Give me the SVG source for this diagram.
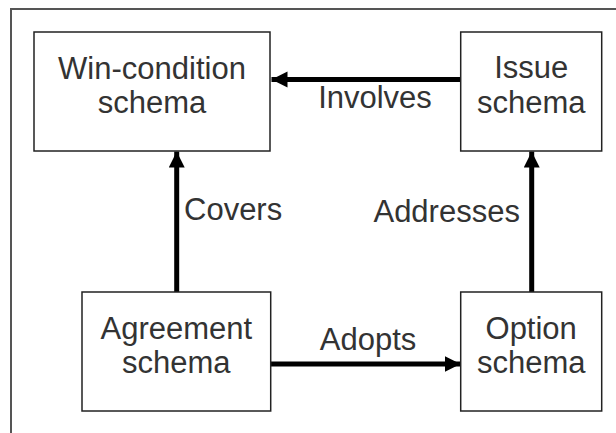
<svg xmlns="http://www.w3.org/2000/svg" width="616" height="433" viewBox="0 0 616 433">
  <style>
    .box { fill: #ffffff; stroke: #222222; stroke-width: 1.5; }
    .lbl { font-family: "Liberation Sans", Arial, sans-serif; font-size: 31px; fill: #333333; text-anchor: middle; }
    .edge { stroke: #000000; stroke-width: 5; fill: none; marker-end: url(#head); }
    .frame { stroke: #555555; stroke-width: 2; fill: none; }
  </style>
  <defs>
    <marker id="head" markerUnits="userSpaceOnUse" markerWidth="18" markerHeight="18" refX="16" refY="8" orient="auto">
      <path d="M0,0 L16,8 L0,16 Z" fill="#000000"/>
    </marker>
  </defs>
  <rect width="616" height="433" fill="#ffffff"/>

  <!-- open frame: top and left edges only -->
  <path class="frame" d="M11,433 L11,9 L616,9"/>

  <g id="connectors">
    <line class="edge" x1="460.7" y1="79.5" x2="271.5" y2="79.5"/>
    <line class="edge" x1="176.7" y1="292" x2="176.7" y2="151.5"/>
    <line class="edge" x1="531.7" y1="292" x2="531.7" y2="151.5"/>
    <line class="edge" x1="270.7" y1="364" x2="460.5" y2="364"/>
    <text class="lbl" x="375" y="108">Involves</text>
    <text class="lbl" x="184" y="220" style="text-anchor:start">Covers</text>
    <text class="lbl" x="446.7" y="221.5">Addresses</text>
    <text class="lbl" x="368" y="350">Adopts</text>
  </g>

  <g id="win-condition">
    <rect class="box" x="34" y="32" width="236" height="119"/>
    <text class="lbl" x="152" y="78.5">Win-condition</text>
    <text class="lbl" x="152" y="113">schema</text>
  </g>

  <g id="issue">
    <rect class="box" x="460.7" y="32" width="141" height="119"/>
    <text class="lbl" x="531.2" y="77.5">Issue</text>
    <text class="lbl" x="531.2" y="113">schema</text>
  </g>

  <g id="agreement">
    <rect class="box" x="82" y="292" width="188.7" height="119"/>
    <text class="lbl" x="176.3" y="339">Agreement</text>
    <text class="lbl" x="176.3" y="373.3">schema</text>
  </g>

  <g id="option">
    <rect class="box" x="460.7" y="292" width="141" height="119"/>
    <text class="lbl" x="531.2" y="339">Option</text>
    <text class="lbl" x="531.2" y="373.3">schema</text>
  </g>
</svg>
